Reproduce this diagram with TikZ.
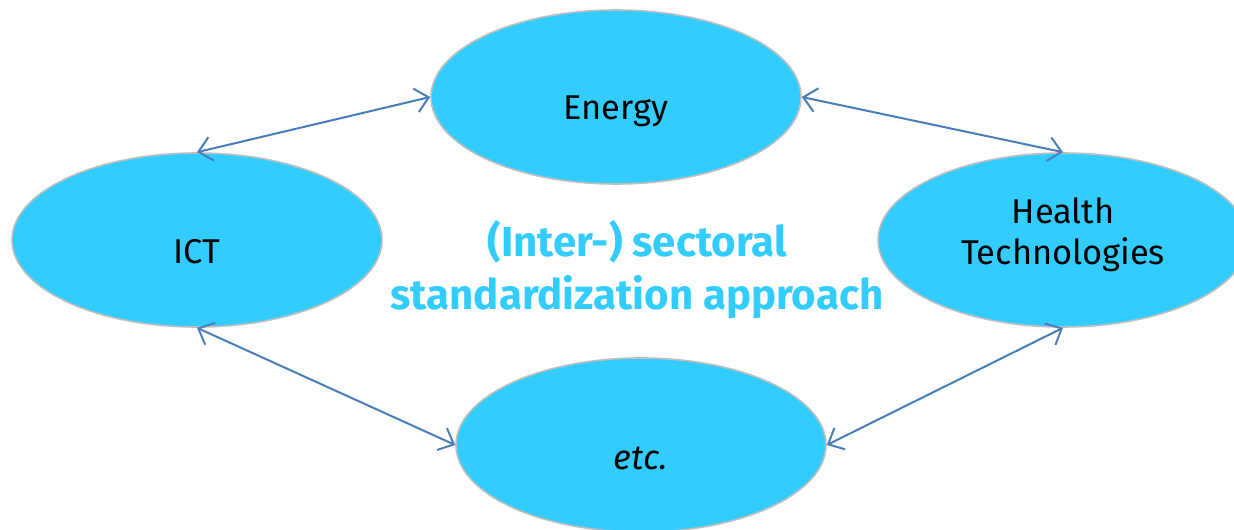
\documentclass[tikz,border=0pt]{standalone}
\usepackage{fontspec}
\setmainfont{Fira Sans}
\usepackage{tikz}
\usetikzlibrary{shapes.geometric,arrows.meta}
\definecolor{sectorfill}{HTML}{33CCFF}
\definecolor{sectorline}{HTML}{BFBFBF}
\definecolor{linkblue}{HTML}{4A7EBB}

\begin{document}
\begin{tikzpicture}[x=0.5pt,y=-0.5pt,
    sector/.style={ellipse,draw=sectorline,line width=0.8pt,fill=sectorfill,
      minimum width=185pt,minimum height=87pt,inner sep=0pt},
    sectortext/.style={font=\fontsize{17.2}{20.5}\selectfont,align=center},
    link/.style={linkblue,line width=1pt,{Straight Barb[length=6.5pt,width=12pt]}-{Straight Barb[length=6.5pt,width=12pt]}}]
        \useasboundingbox (0,0) rectangle (1234,529);
        \node[sector] (energy) at (616,97) {};
        \node[sector] (ict) at (197,240) {};
        \node[sector] (health) at (1063,240) {};
        \node[sector] (etc) at (641,445) {};
        \node[sectortext,yshift=-7pt] (energy text) at (energy) {Energy};
        \node[sectortext,yshift=-6pt] (ict text) at (ict) {ICT};
        \node[sectortext,yshift=2.5pt] (health text) at (health) {Health\\Technologies};
        \node[sectortext,yshift=-6.5pt] (etc text) at (etc) {\itshape etc.};
        \node[text=sectorfill,font=\bfseries\fontsize{21}{26.5}\selectfont,align=center]
          (approach) at (637,270) {(Inter-) sectoral\\standardization approach};
        \draw[link] (ict.north) -- (energy.west);
        \draw[link] (energy.east) -- (health.north);
        \draw[link] (ict.south) -- (etc.west);
        \draw[link] (health.south) -- (etc.east);
      \end{tikzpicture}
\end{document}
